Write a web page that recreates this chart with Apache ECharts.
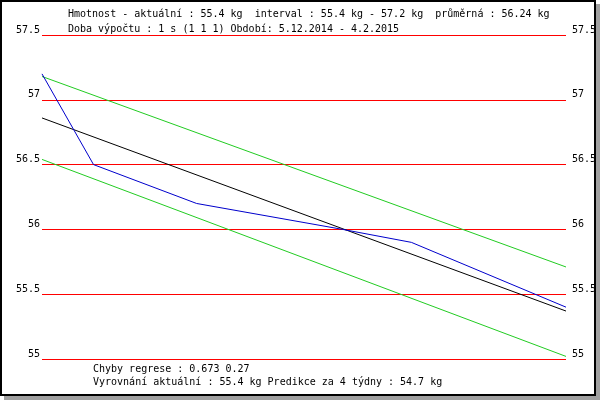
<!DOCTYPE html>
<html>
<head>
<meta charset="utf-8">
<script src="https://cdn.jsdelivr.net/npm/echarts@6/dist/echarts.min.js"></script>
<style>
html,body{margin:0;padding:0;background:#fff;}
#chart{width:600px;height:400px;}
</style>
</head>
<body>
<div id="chart"></div>
<script>
// Days since 5.12.2014
const days = [0, 6, 18, 35, 43, 61];
const weight = [57.2, 56.5, 56.2, 56.0, 55.9, 55.4];
const trendEnds = [56.86, 55.37];
const upperEnds = [57.18, 55.71];
const lowerEnds = [56.54, 55.02];
const dayRange = [0, 61];
const yTicks = [55, 55.5, 56, 56.5, 57, 57.5];

const headerLines = [
  'Hmotnost - aktuální : 55.4 kg  interval : 55.4 kg - 57.2 kg  průměrná : 56.24 kg',
  'Doba výpočtu : 1 s (1 1 1) Období: 5.12.2014 - 4.2.2015'
];
const footerLines = [
  'Chyby regrese : 0.673 0.27',
  'Vyrovnání aktuální : 55.4 kg Predikce za 4 týdny : 54.7 kg'
];

const FONT = '"DejaVu Sans Mono", monospace';

function pair(ends) {
  return [[dayRange[0], ends[0]], [dayRange[1], ends[1]]];
}

const chart = echarts.init(document.getElementById('chart'), null, {renderer: 'canvas'});

const yAxisCommon = {
  type: 'value',
  min: yTicks[0],
  max: yTicks[yTicks.length - 1],
  interval: 0.5,
  axisLine: {show: false},
  axisTick: {show: false},
  axisLabel: {
    color: '#000',
    fontFamily: FONT,
    fontSize: 10,
    lineHeight: 10,
    verticalAlign: 'bottom'
  },
  splitLine: {show: true, lineStyle: {color: '#ff0000', width: 1}}
};

chart.setOption({
  animation: false,
  backgroundColor: 'transparent',
  grid: {left: 42, right: 34, top: 35, bottom: 41, containLabel: false},
  xAxis: {
    type: 'value', min: dayRange[0], max: dayRange[1], show: false
  },
  yAxis: [
    Object.assign({}, yAxisCommon, {position: 'left', axisLabel: Object.assign({}, yAxisCommon.axisLabel, {margin: 2, align: 'right'})}),
    Object.assign({}, yAxisCommon, {position: 'right', splitLine: {show: false}, axisLabel: Object.assign({}, yAxisCommon.axisLabel, {margin: 6, align: 'left'})})
  ],
  graphic: [
    {type: 'rect', z: -10, silent: true, shape: {x: 4, y: 4, width: 596, height: 396}, style: {fill: '#a0a0a0'}},
    {type: 'rect', z: -9, silent: true, shape: {x: 0, y: 0, width: 596, height: 396}, style: {fill: '#ffffff'}},
    {type: 'rect', z: 100, silent: true, shape: {x: 1, y: 1, width: 594, height: 394}, style: {fill: null, stroke: '#000', lineWidth: 2}},
    {type: 'text', z: 50, x: 68, y: 14, style: {text: headerLines[0], font: '10px ' + FONT, fill: '#000', verticalAlign: 'middle'}},
    {type: 'text', z: 50, x: 68, y: 29.5, style: {text: headerLines[1], font: '10px ' + FONT, fill: '#000', verticalAlign: 'middle'}},
    {type: 'text', z: 50, x: 93, y: 369.5, style: {text: footerLines[0], font: '10px ' + FONT, fill: '#000', verticalAlign: 'middle'}},
    {type: 'text', z: 50, x: 93, y: 382, style: {text: footerLines[1], font: '10px ' + FONT, fill: '#000', verticalAlign: 'middle'}}
  ],
  series: [
    {type: 'line', data: pair(upperEnds), symbol: 'none', lineStyle: {color: '#22cc22', width: 1}, z: 3},
    {type: 'line', data: pair(lowerEnds), symbol: 'none', lineStyle: {color: '#22cc22', width: 1}, z: 3},
    {type: 'line', data: pair(trendEnds), symbol: 'none', lineStyle: {color: '#000000', width: 1}, z: 4},
    {type: 'line', data: days.map((d, i) => [d, weight[i]]), symbol: 'none', lineStyle: {color: '#0000cc', width: 1}, z: 5}
  ]
});
</script>
</body>
</html>
